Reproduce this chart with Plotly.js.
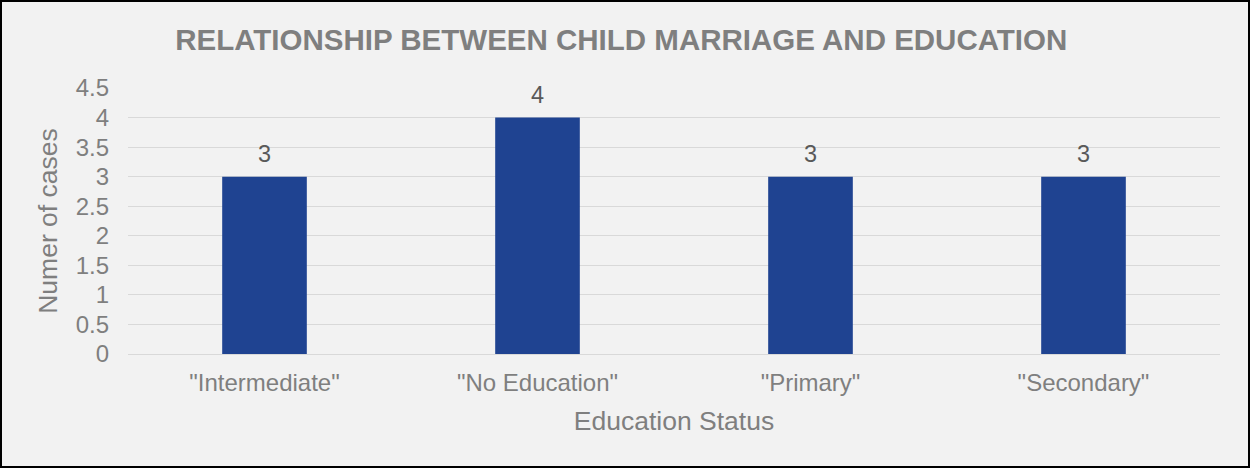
<!DOCTYPE html>
<html><head><meta charset="utf-8">
<script src="https://cdn.plot.ly/plotly-3.0.1.min.js"></script>
<style>
html,body{margin:0;padding:0;background:#fff;}
#wrap{position:absolute;left:0;top:0;width:1246px;height:464px;border:2px solid #000;background:#f2f2f2;}
#chart{width:1246px;height:464px;}
</style></head>
<body><div id="wrap"><div id="chart"></div></div>
<script>
const categories = ['"Intermediate"', '"No Education"', '"Primary"', '"Secondary"'];
const cases = [3, 4, 3, 3];
const yTicks = [0, 0.5, 1, 1.5, 2, 2.5, 3, 3.5, 4, 4.5];

const FONT = 'Liberation Sans, Arial, sans-serif';
const trace = {
  type: 'bar', x: categories, y: cases,
  marker: {color: '#1f4391'}, hoverinfo: 'none'
};
const annotations = categories.map((c, i) => ({
  x: c, y: cases[i], xref: 'x', yref: 'y', text: String(cases[i]),
  showarrow: false, yanchor: 'bottom', yshift: 8,
  font: {family: FONT, size: 23.5, color: '#595959'}
}));
const layout = {
  width: 1246, height: 464,
  margin: {l: 126, r: 28, t: 86, b: 112},
  paper_bgcolor: '#f2f2f2', plot_bgcolor: '#f2f2f2',
  bargap: 0.69,
  font: {family: FONT, color: '#7f7f7f'},
  annotations: annotations,
  title: {text: '<b>RELATIONSHIP BETWEEN CHILD MARRIAGE AND EDUCATION</b>', x: 0.497, xanchor: 'center', y: 0.918, yanchor: 'middle', font: {size: 29.5, color: '#7f7f7f'}},
  xaxis: {title: {text: 'Education Status', font: {size: 26.5, color: '#7f7f7f'}, standoff: 16},
    tickfont: {size: 24, color: '#7f7f7f'}, ticks: '', showline: false, showgrid: false, ticklabelstandoff: 12},
  yaxis: {title: {text: 'Numer of cases', font: {size: 26.5, color: '#7f7f7f'}, standoff: 10},
    range: [0, 4.5], tickvals: yTicks, ticktext: yTicks.map(String),
    tickfont: {size: 24, color: '#7f7f7f'}, gridcolor: '#d9d9d9', gridwidth: 1,
    zeroline: true, zerolinecolor: '#d9d9d9', zerolinewidth: 1, ticklabelstandoff: 18, showline: false}
};
Plotly.newPlot('chart', [trace], layout, {displayModeBar: false, staticPlot: true});
</script></body></html>
